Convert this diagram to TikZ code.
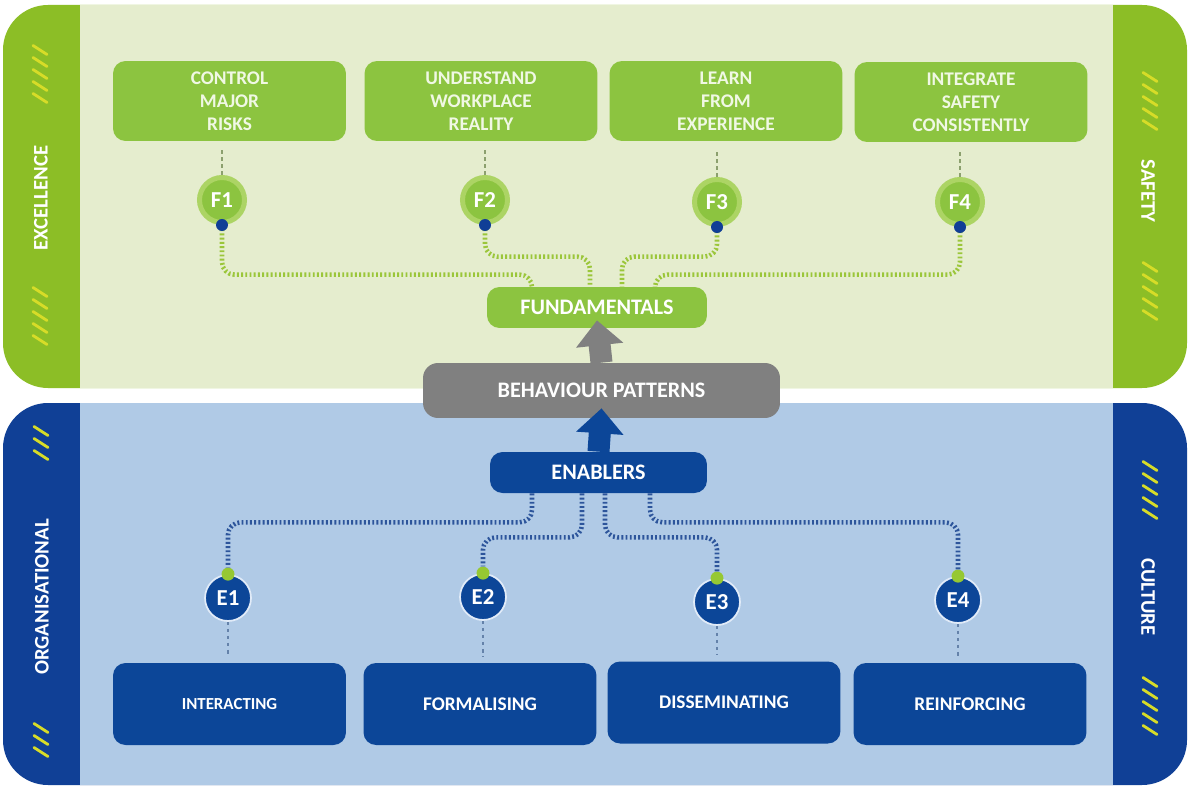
\documentclass[tikz,border=0pt]{standalone}
\usepackage{fontspec}
\setmainfont{Carlito}
\usetikzlibrary{arrows.meta}

\definecolor{bandgreen}{RGB}{140,190,38}
\definecolor{panelgreen}{RGB}{229,237,206}
\definecolor{boxgreen}{RGB}{140,196,64}
\definecolor{halogreen}{RGB}{172,212,100}
\definecolor{gtext}{RGB}{240,248,228}
\definecolor{fline}{RGB}{155,198,58}
\definecolor{fthincol}{RGB}{140,160,110}
\definecolor{darkdot}{RGB}{16,62,150}
\definecolor{bandblue}{RGB}{16,64,150}
\definecolor{panelblue}{RGB}{176,202,230}
\definecolor{boxblue}{RGB}{12,70,152}
\definecolor{eline}{RGB}{45,85,155}
\definecolor{ethincol}{RGB}{100,130,170}
\definecolor{edotgreen}{RGB}{150,200,50}
\definecolor{ering}{RGB}{225,235,248}
\definecolor{stripeyellow}{RGB}{215,220,40}
\definecolor{arrowgray}{RGB}{128,128,128}

\tikzset{
  fbox/.style={fill=boxgreen,text=gtext,rounded corners=0.25cm,minimum width=4.66cm,minimum height=1.6cm,align=center,font=\bfseries\fontsize{11}{13.2}\selectfont},
  ebox/.style={fill=boxblue,text=white,rounded corners=0.25cm,minimum width=4.66cm,minimum height=1.64cm,font=\bfseries\fontsize{11}{13}\selectfont},
  fnum/.style={circle,fill=boxgreen,draw=halogreen,line width=0.1cm,minimum size=0.9cm,inner sep=0pt,text=white,font=\bfseries\fontsize{13}{14}\selectfont},
  enum/.style={circle,fill=boxblue,draw=ering,line width=1pt,minimum size=0.92cm,inner sep=0pt,text=white,font=\bfseries\fontsize{13}{14}\selectfont},
  bluedot/.style={circle,fill=darkdot,minimum size=0.24cm,inner sep=0pt},
  greendot/.style={circle,fill=edotgreen,minimum size=0.26cm,inner sep=0pt},
  fdots/.style={draw=fline,line width=2.6pt,dash pattern=on 1.1pt off 1.3pt,rounded corners=0.25cm},
  edots/.style={draw=eline,line width=2.6pt,dash pattern=on 1.1pt off 1.3pt,rounded corners=0.25cm},
  fthin/.style={draw=fthincol,line width=0.8pt,dash pattern=on 2pt off 2pt},
  ethin/.style={draw=ethincol,line width=0.8pt,dash pattern=on 2pt off 2pt},
  midbox/.style={text=white,rounded corners=0.25cm,minimum height=0.82cm,font=\bfseries\fontsize{12.6}{14}\selectfont},
  sidetext/.style={text=white,font=\bfseries\fontsize{11.8}{13}\selectfont},
  stripe/.style={draw=stripeyellow,line width=1.6pt,line cap=round},
  bigarrow/.style={line width=0.44cm,-{Triangle[width=0.92cm,length=0.5cm]}}
}

\begin{document}
\begin{tikzpicture}[x=0.02cm,y=-0.02cm]
  \useasboundingbox (0,0) rectangle (1189,787);
  \fill[white] (0,0) rectangle (1189,787);

  % top panel
  \fill[bandgreen,rounded corners=0.9cm] (3,5) rectangle (1187,388);
  \fill[panelgreen] (80,5) rectangle (1113,388);
  % bottom panel
  \fill[bandblue,rounded corners=0.9cm] (3,403) rectangle (1187,785);
  \fill[panelblue] (80,403) rectangle (1113,785);

  % stripes
  \foreach \s in {50,62,74,86,98,292,304,316,328,340}
    \draw[stripe] (33,\s-4.5) -- (47,\s+4.5);
  \foreach \s in {77,89,101,113,125,267,279,291,303,315,466,478,490,502,514,682,694,706,718,730}
    \draw[stripe] (1143,\s-4.5) -- (1157,\s+4.5);
  \foreach \s in {431,443,455,728,740,752}
    \draw[stripe] (34,\s-4.5) -- (48,\s+4.5);

  \node[sidetext,rotate=90] (excellence) at (41,198) {EXCELLENCE};
  \node[sidetext,rotate=-90] (safety) at (1148,191) {SAFETY};
  \node[sidetext,rotate=90] (organisational) at (42,597) {ORGANISATIONAL};
  \node[sidetext,rotate=-90] (culture) at (1148,597) {CULTURE};

  % fundamentals
  \node[fbox] (risks) at (229.5,101) {CONTROL\\MAJOR\\RISKS};
  \node[fbox] (reality) at (481,101) {UNDERSTAND\\WORKPLACE\\REALITY};
  \node[fbox] (experience) at (726,101) {LEARN\\FROM\\EXPERIENCE};
  \node[fbox] (integrate) at (971,102) {INTEGRATE\\SAFETY\\CONSISTENTLY};

  \node[fnum] (f1) at (222,200) {F1};
  \node[fnum] (f2) at (485,200) {F2};
  \node[fnum] (f3) at (717,202) {F3};
  \node[fnum] (f4) at (960,202) {F4};

  \draw[fthin,shorten >=0.16cm] (f1) -- (f1 |- risks.south);
  \draw[fthin,shorten >=0.16cm] (f2) -- (f2 |- reality.south);
  \draw[fthin,shorten >=0.16cm] (f3) -- (f3 |- experience.south);
  \draw[fthin,shorten >=0.16cm] (f4) -- (f4 |- integrate.south);

  \node[midbox,fill=boxgreen,minimum width=4.4cm] (fund) at (597,307.5) {FUNDAMENTALS};

  \draw[fdots] (f1.south) |- ([xshift=-1.3cm,yshift=0.24cm]fund.north) -- ([xshift=-1.3cm]fund.north);
  \draw[fdots] (f2.south) |- ([xshift=-0.14cm,yshift=0.6cm]fund.north) -- ([xshift=-0.14cm]fund.north);
  \draw[fdots] (f3.south) |- ([xshift=0.5cm,yshift=0.6cm]fund.north) -- ([xshift=0.5cm]fund.north);
  \draw[fdots] (f4.south) |- ([xshift=1.16cm,yshift=0.24cm]fund.north) -- ([xshift=1.16cm]fund.north);

  \node[bluedot] (fd1) at (f1.south) {};
  \node[bluedot] (fd2) at (f2.south) {};
  \node[bluedot] (fd3) at (f3.south) {};
  \node[bluedot] (fd4) at (f4.south) {};

  \node[midbox,fill=arrowgray,minimum width=7.14cm,minimum height=1.1cm,rounded corners=0.3cm] (behaviour) at (601.5,390.5) {BEHAVIOUR PATTERNS};
  \draw[bigarrow,color=arrowgray] (behaviour.north) -- ([yshift=0.16cm]fund.south);

  % enablers
  \node[midbox,fill=boxblue,minimum width=4.34cm] (enablers) at (598.5,472.5) {ENABLERS};
  \draw[bigarrow,color=boxblue] (enablers.north) -- ([yshift=0.2cm]behaviour.south);

  \node[enum] (e1) at (228,598) {E1};
  \node[enum] (e2) at (483,597) {E2};
  \node[enum] (e3) at (717,602) {E3};
  \node[enum] (e4) at (958,600) {E4};

  \node[greendot] (ed1) at (e1.north) {};
  \node[greendot] (ed2) at (e2.north) {};
  \node[greendot] (ed3) at (e3.north) {};
  \node[greendot] (ed4) at (e4.north) {};

  \draw[edots] ([xshift=-1.33cm]enablers.south) -- ++(0,-0.58cm) -| (ed1);
  \draw[edots] ([xshift=-0.33cm]enablers.south) -- ++(0,-0.88cm) -| (ed2);
  \draw[edots] ([xshift=0.13cm]enablers.south) -- ++(0,-0.88cm) -| (ed3);
  \draw[edots] ([xshift=1.03cm]enablers.south) -- ++(0,-0.58cm) -| (ed4);

  \node[ebox,font=\bfseries\fontsize{9.6}{11}\selectfont] (interacting) at (229.5,704) {INTERACTING};
  \node[ebox] (formalising) at (480,704) {FORMALISING};
  \node[ebox] (disseminating) at (724,702.5) {DISSEMINATING};
  \node[ebox] (reinforcing) at (970,704) {REINFORCING};

  \draw[ethin,shorten >=0.12cm] (e1) -- (e1 |- interacting.north);
  \draw[ethin,shorten >=0.12cm] (e2) -- (e2 |- formalising.north);
  \draw[ethin,shorten >=0.12cm] (e3) -- (e3 |- disseminating.north);
  \draw[ethin,shorten >=0.12cm] (e4) -- (e4 |- reinforcing.north);
\end{tikzpicture}
\end{document}
